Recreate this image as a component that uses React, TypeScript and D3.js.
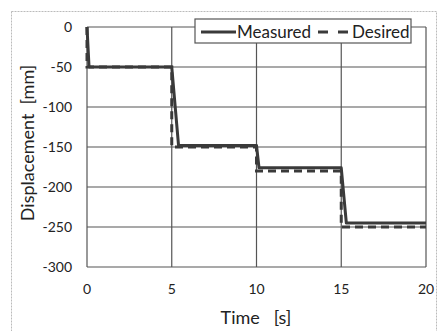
import * as d3 from "d3";
import { useEffect, useRef } from "react";

const timeTicks = [0, 5, 10, 15, 20];
const dispTicks = [0, -50, -100, -150, -200, -250, -300];

// measured response (s, mm)
const measuredT = [0, 0.12, 5.0, 5.4, 10.0, 10.15, 15.0, 15.3, 20];
const measuredV = [0, -50, -50, -148, -148, -176, -176, -245, -245];

// desired command
const desiredT = [0, 0, 5, 5, 10, 10, 15, 15, 20];
const desiredV = [0, -50, -50, -150, -150, -180, -180, -250, -250];

const W = 437;
const H = 331;

const App = () => {
    const svgRef = useRef<SVGSVGElement>(null);

    useEffect(() => {
        const svg = d3.select(svgRef.current);
        svg.selectAll("*").remove();

        const x = d3.scaleLinear().domain([0, 20]).range([87, 426]);
        const y = d3.scaleLinear().domain([-300, 0]).range([267, 27]);
        const font = "Lato, 'Open Sans', sans-serif";
        const ink = "#3a3a3a";

        svg.append("rect").attr("width", W).attr("height", H).attr("fill", "#fff");

        // outer chart border (dashed, light)
        svg.append("rect")
            .attr("x", 11.5).attr("y", 11.5)
            .attr("width", W - 12).attr("height", H - 11)
            .attr("fill", "none")
            .attr("stroke", "#bbb")
            .attr("stroke-width", 1)
            .attr("stroke-dasharray", "2,1");

        // grid
        const grid = svg.append("g").attr("stroke", "#555").attr("stroke-width", 1.2);
        grid.selectAll("line.h").data(dispTicks).join("line")
            .attr("x1", x(0)).attr("x2", x(20))
            .attr("y1", d => y(d)).attr("y2", d => y(d));
        grid.selectAll("line.v").data(timeTicks).join("line")
            .attr("y1", y(0)).attr("y2", y(-300))
            .attr("x1", d => x(d)).attr("x2", d => x(d));

        // tick labels
        svg.append("g").selectAll("text").data(dispTicks).join("text")
            .attr("x", 72).attr("y", d => y(d))
            .attr("dy", "0.35em")
            .attr("text-anchor", "end")
            .attr("font-family", font).attr("font-size", 14)
            .attr("fill", "#222")
            .text(d => d);

        svg.append("g").selectAll("text").data(timeTicks).join("text")
            .attr("x", d => x(d)).attr("y", 294)
            .attr("text-anchor", "middle")
            .attr("font-family", font).attr("font-size", 14)
            .attr("fill", "#222")
            .text(d => d);

        // axis titles
        svg.append("text")
            .attr("x", 256).attr("y", 324)
            .attr("text-anchor", "middle")
            .attr("font-family", font).attr("font-size", 18)
            .attr("fill", "#222")
            .attr("xml:space", "preserve")
            .text("Time   [s]");

        svg.append("text")
            .attr("transform", "translate(34,143) rotate(-90)")
            .attr("text-anchor", "middle")
            .attr("font-family", font).attr("font-size", 18)
            .attr("fill", "#222")
            .attr("xml:space", "preserve")
            .text("Displacement  [mm]");

        const line = d3.line<[number, number]>()
            .x(d => x(d[0]))
            .y(d => y(d[1]));

        const desired = desiredT.map((t, i) => [t, desiredV[i]] as [number, number]);
        const measured = measuredT.map((t, i) => [t, measuredV[i]] as [number, number]);

        svg.append("path")
            .datum(desired)
            .attr("fill", "none")
            .attr("stroke", ink)
            .attr("stroke-width", 3)
            .attr("stroke-dasharray", "8,5")
            .attr("d", line);

        svg.append("path")
            .datum(measured)
            .attr("fill", "none")
            .attr("stroke", ink)
            .attr("stroke-width", 3)
            .attr("stroke-linejoin", "round")
            .attr("d", line);

        // legend
        const lg = svg.append("g");
        lg.append("rect")
            .attr("x", 195).attr("y", 19)
            .attr("width", 216).attr("height", 24)
            .attr("fill", "#fff")
            .attr("stroke", "#555")
            .attr("stroke-width", 1.2);
        lg.append("line")
            .attr("x1", 201).attr("x2", 236).attr("y1", 32).attr("y2", 32)
            .attr("stroke", ink).attr("stroke-width", 3);
        lg.append("text")
            .attr("x", 237).attr("y", 32).attr("dy", "0.35em")
            .attr("font-family", font).attr("font-size", 17)
            .attr("fill", "#222")
            .text("Measured");
        lg.append("line")
            .attr("x1", 318).attr("x2", 351).attr("y1", 32).attr("y2", 32)
            .attr("stroke", ink).attr("stroke-width", 3)
            .attr("stroke-dasharray", "10,10");
        lg.append("text")
            .attr("x", 352).attr("y", 32).attr("dy", "0.35em")
            .attr("font-family", font).attr("font-size", 17)
            .attr("fill", "#222")
            .text("Desired");
    }, []);

    return (
        <svg ref={svgRef} width={W} height={H}
            style={{ position: "absolute", left: 0, top: 0 }} />
    );
};

export default App;
